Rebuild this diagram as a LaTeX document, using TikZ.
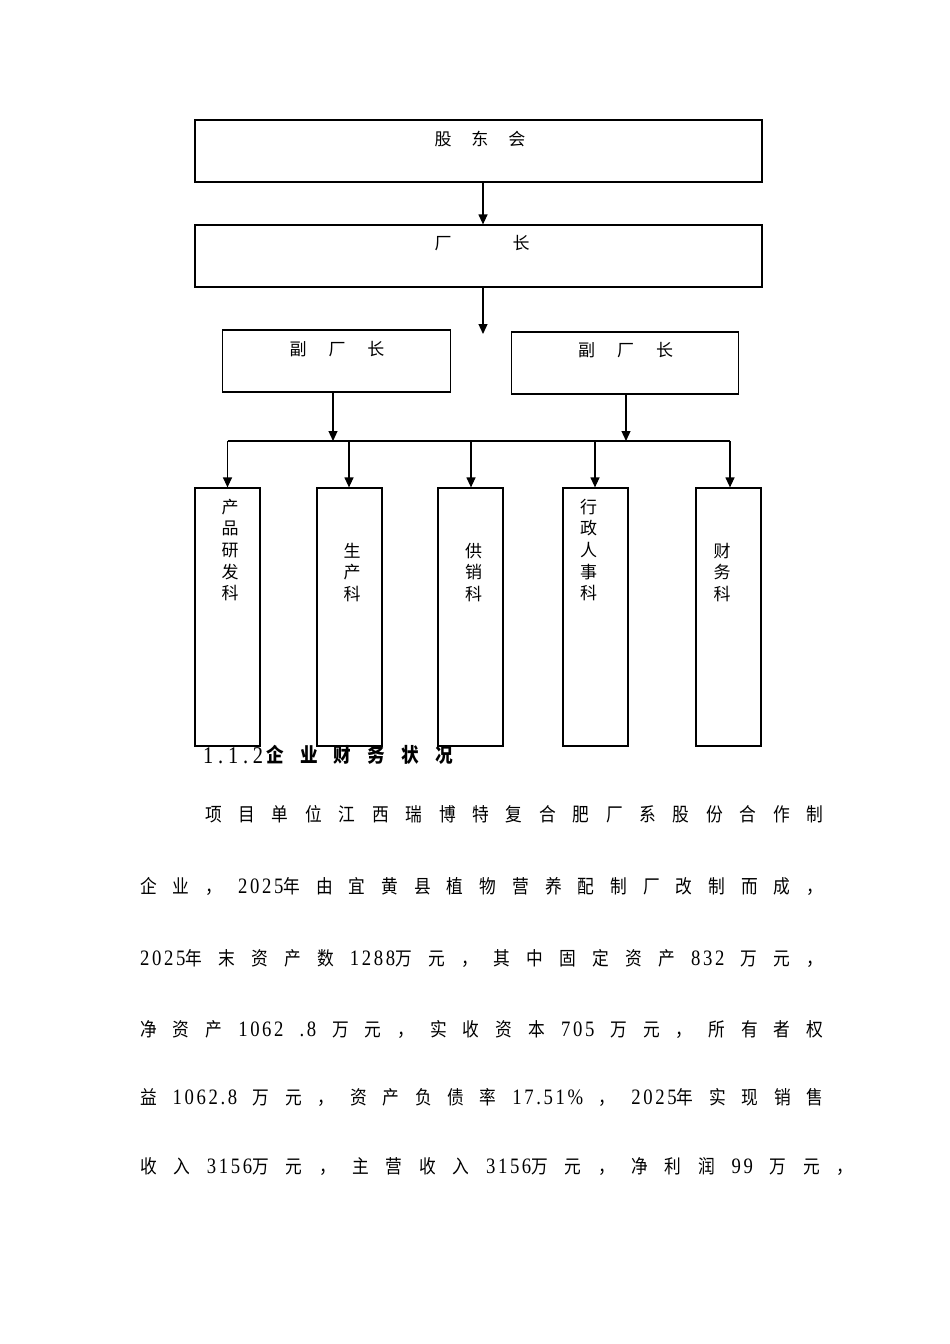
\documentclass[tikz,border=0pt]{standalone}
\usepackage{fontspec}
\usetikzlibrary{arrows.meta}
\setmainfont{Noto Sans CJK SC}
\newfontfamily\cjkfnt{Noto Sans CJK SC}
\newfontfamily\cjkn[FakeStretch=0.88]{Noto Sans CJK SC}
\newfontfamily\numfnt[FakeStretch=0.85,LetterSpace=12]{Liberation Serif}
\newfontfamily\numbfnt[FakeStretch=0.85]{Liberation Serif}
\newcommand\dig[1]{{\numfnt\fontsize{22}{22}\selectfont #1}}
\tikzset{
  box/.style={draw=black, line width=1.2pt, inner sep=0pt},
  arr/.style={line width=1.2pt, -{Triangle[length=10pt,width=9pt]}},
  ln/.style={line width=1.2pt},
  lbl/.style={inner sep=0pt, font=\cjkfnt\fontsize{17}{17}\selectfont},
  vlbl/.style={inner sep=0pt, align=center, font=\cjkfnt\fontsize{17}{21.6}\selectfont},
  para/.style={inner sep=0pt, anchor=west, font=\cjkn\fontsize{19}{19}\selectfont},
}
\begin{document}
\begin{tikzpicture}[x=1pt,y=-1pt]
\fill[white] (0,0) rectangle (950,1344);
\useasboundingbox (0,0) rectangle (950,1344);

% top boxes
\node[box, minimum width=567pt, minimum height=62pt] (gd) at (478.5,151) {};
\node[lbl] (gdt) at (480,139) {股\hspace{20pt}东\hspace{20pt}会};
\node[box, minimum width=567pt, minimum height=62pt] (cz) at (478.5,256) {};
\node[lbl] (czt) at (482,243) {厂\hspace{61pt}长};

% vice directors
\node[box, minimum width=228pt, minimum height=62pt] (vl) at (336.5,361) {};
\node[lbl] (vlt) at (337,349) {副\hspace{22pt}厂\hspace{22pt}长};
\node[box, minimum width=227pt, minimum height=62pt] (vr) at (625,363) {};
\node[lbl] (vrt) at (625.5,350) {副\hspace{22pt}厂\hspace{22pt}长};

% departments
\node[box, minimum width=65pt, minimum height=258pt] (d1) at (227.5,617) {};
\node[box, minimum width=65pt, minimum height=258pt] (d2) at (349.5,617) {};
\node[box, minimum width=65pt, minimum height=258pt] (d3) at (470.5,617) {};
\node[box, minimum width=65pt, minimum height=258pt] (d4) at (595.5,617) {};
\node[box, minimum width=65pt, minimum height=258pt] (d5) at (728.5,617) {};
\node[vlbl] (d1t) at (230,550) {产\\品\\研\\发\\科};
\node[vlbl] (d2t) at (352,572.5) {生\\产\\科};
\node[vlbl] (d3t) at (473.5,572.5) {供\\销\\科};
\node[vlbl] (d4t) at (588.5,550) {行\\政\\人\\事\\科};
\node[vlbl] (d5t) at (722,572.5) {财\\务\\科};

% connectors
\coordinate (m) at (483,0);
\coordinate (tip) at (483,334);
\draw[arr] (gd.south -| m) -- (cz.north -| m);
\draw[arr] (cz.south -| m) -- (tip);
\coordinate (bl) at (333,441);
\coordinate (br) at (626,441);
\draw[arr] (vl.south -| bl) -- (bl);
\draw[arr] (vr.south -| br) -- (br);
\coordinate (b1) at (227.5,441);
\coordinate (b2) at (349,441);
\coordinate (b3) at (471,441);
\coordinate (b4) at (595,441);
\coordinate (b5) at (730,441);
\draw[ln] (b1) -- (b5);
\draw[arr] (b1) -- (d1.north -| b1);
\draw[arr] (b2) -- (d2.north -| b2);
\draw[arr] (b3) -- (d3.north -| b3);
\draw[arr] (b4) -- (d4.north -| b4);
\draw[arr] (b5) -- (d5.north -| b5);

% heading
\node[inner sep=0pt, anchor=base west, font=\numbfnt\fontsize{24}{24}\selectfont] (h1) at (203,763)
  {\makebox[60pt][s]{1\hfil.\hfil1\hfil.\hfil2}};
\node[inner sep=0pt, anchor=west, font=\cjkn\bfseries\fontsize{20}{20}\selectfont] (h2) at (266,755)
  {\makebox[187pt][s]{企 业 财 务 状 况}};

% paragraph
\node[para] (p1) at (205,814) {\makebox[618pt][s]{项 目 单 位 江 西 瑞 博 特 复 合 肥 厂 系 股 份 合 作 制}};
\node[para] (p2) at (140,886) {\makebox[683pt][s]{企 业 ， \dig{2025}年 由 宜 黄 县 植 物 营 养 配 制 厂 改 制 而 成 ，}};
\node[para] (p3) at (140,958) {\makebox[683pt][s]{\dig{2025}年 末 资 产 数 \dig{1288}万 元 ， 其 中 固 定 资 产 \dig{832} 万 元 ，}};
\node[para] (p4) at (140,1029) {\makebox[683pt][s]{净 资 产 \dig{1062} \dig{.8} 万 元 ， 实 收 资 本 \dig{705} 万 元 ， 所 有 者 权}};
\node[para] (p5) at (140,1097) {\makebox[683pt][s]{益 \dig{1062.8} 万 元 ， 资 产 负 债 率 \dig{17.51\%} ， \dig{2025}年 实 现 销 售}};
\node[para] (p6) at (140,1166) {\makebox[713pt][s]{收 入 \dig{3156}万 元 ， 主 营 收 入 \dig{3156}万 元 ， 净 利 润 \dig{99} 万 元 ，}};
\end{tikzpicture}
\end{document}
